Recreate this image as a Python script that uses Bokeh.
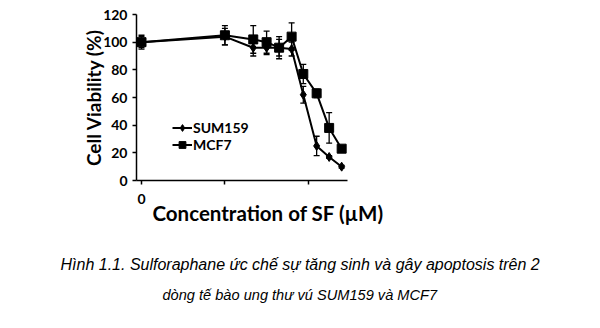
from bokeh.plotting import figure
from bokeh.models import (Range1d, FixedTicker, Whisker, TeeHead, ColumnDataSource, Legend,
                          LegendItem, Title)
from bokeh.embed import file_html
from bokeh.resources import INLINE

# x positions on the (log-like) concentration axis, in tick units (0, 1, 2 = major ticks)
conc_pos = [0, 1.0, 1.34, 1.50, 1.65, 1.80, 1.94, 2.10, 2.25, 2.40]
sum159 = [100, 104, 96, 96, 96, 95, 62, 25, 17, 10]
sum159_err = [5, 6, 6, 5, 6, 5, 6, 7, 1, 1]
mcf7 = [100, 105, 102, 100, 96, 104, 77, 63, 38, 23]
mcf7_err = [4, 7, 10, 8, 8, 10, 7, 3, 11, 2]
y_ticks = [0, 20, 40, 60, 80, 100, 120]
x_ticks = [0, 1, 2]
x_tick_labels = {0: "0", 1: "", 2: ""}
caption_lines = ["Hình 1.1. Sulforaphane ức chế sự tăng sinh và gây apoptosis trên 2",
                 "dòng tế bào ung thư vú SUM159 và MCF7"]

FONT = "Lato"

p = figure(frame_width=211, frame_height=166,
           x_range=Range1d(-0.06, 2.47), y_range=Range1d(0, 120),
           output_backend="svg", toolbar_location=None,
           min_border_left=136, min_border_right=253,
           min_border_top=14, min_border_bottom=10)
p.outline_line_color = None
p.xgrid.visible = False
p.ygrid.visible = False

for ax in (p.xaxis[0], p.yaxis[0]):
    ax.axis_line_color = "black"
    ax.axis_line_width = 1.5
    ax.major_tick_line_color = "black"
    ax.major_tick_line_width = 1.5
    ax.minor_tick_line_color = None
    ax.major_tick_in = 0
    ax.major_tick_out = 4
    ax.major_label_text_font = FONT
    ax.major_label_text_font_style = "bold"
    ax.major_label_text_font_size = "14px"
    ax.major_label_text_color = "black"

p.yaxis.ticker = FixedTicker(ticks=y_ticks)
p.yaxis.major_label_standoff = 5
p.yaxis.axis_label = "Cell Viability (%)"
p.yaxis.axis_label_text_font = FONT
p.yaxis.axis_label_text_font_style = "bold"
p.yaxis.axis_label_text_font_size = "19px"
p.yaxis.axis_label_text_color = "black"
p.yaxis.axis_label_standoff = -5

p.xaxis.ticker = FixedTicker(ticks=x_ticks)
p.xaxis.major_label_overrides = x_tick_labels
p.xaxis.major_label_standoff = 9

p.add_layout(Title(text="Concentration of SF (µM)", align="left", offset=16, standoff=-16,
                   text_font=FONT, text_font_style="bold", text_font_size="20.5px",
                   text_color="black"), "below")
# empty spacer line between the axis title and the figure caption
p.add_layout(Title(text=" ", align="left", standoff=19, text_font_size="10px"), "below")
p.add_layout(Title(text=caption_lines[0], align="left", offset=-76, standoff=10,
                   text_font="Liberation Sans", text_font_style="italic",
                   text_font_size="16px", text_color="black"), "below")
p.add_layout(Title(text=caption_lines[1], align="left", offset=26, standoff=15,
                   text_font="Liberation Sans", text_font_style="italic",
                   text_font_size="14.6px", text_color="black"), "below")

src1 = ColumnDataSource(dict(x=conc_pos, y=sum159,
                             lo=[v - e for v, e in zip(sum159, sum159_err)],
                             hi=[v + e for v, e in zip(sum159, sum159_err)]))
src2 = ColumnDataSource(dict(x=conc_pos, y=mcf7,
                             lo=[v - e for v, e in zip(mcf7, mcf7_err)],
                             hi=[v + e for v, e in zip(mcf7, mcf7_err)]))

for s in (src1, src2):
    w = Whisker(base="x", lower="lo", upper="hi", source=s, line_color="black", line_width=1.3,
                upper_head=TeeHead(size=6, line_color="black", line_width=1.3),
                lower_head=TeeHead(size=6, line_color="black", line_width=1.3))
    p.add_layout(w)

l1 = p.line("x", "y", source=src1, line_color="black", line_width=2)
m1 = p.scatter("x", "y", source=src1, marker="diamond", size=9, fill_color="black", line_color="black")
l2 = p.line("x", "y", source=src2, line_color="black", line_width=2)
m2 = p.scatter("x", "y", source=src2, marker="square", size=9, fill_color="black", line_color="black")

legend = Legend(items=[LegendItem(label="SUM159", renderers=[l1, m1]),
                       LegendItem(label="MCF7", renderers=[l2, m2])],
                location=(36, 27), padding=0, margin=0, spacing=0,
                label_standoff=1, glyph_width=20, glyph_height=17, label_height=17,
                border_line_color=None, background_fill_alpha=0,
                label_text_font=FONT, label_text_font_style="bold",
                label_text_font_size="14px", label_text_color="black")
p.add_layout(legend)

open("out.html", "w").write(file_html(p, INLINE))
